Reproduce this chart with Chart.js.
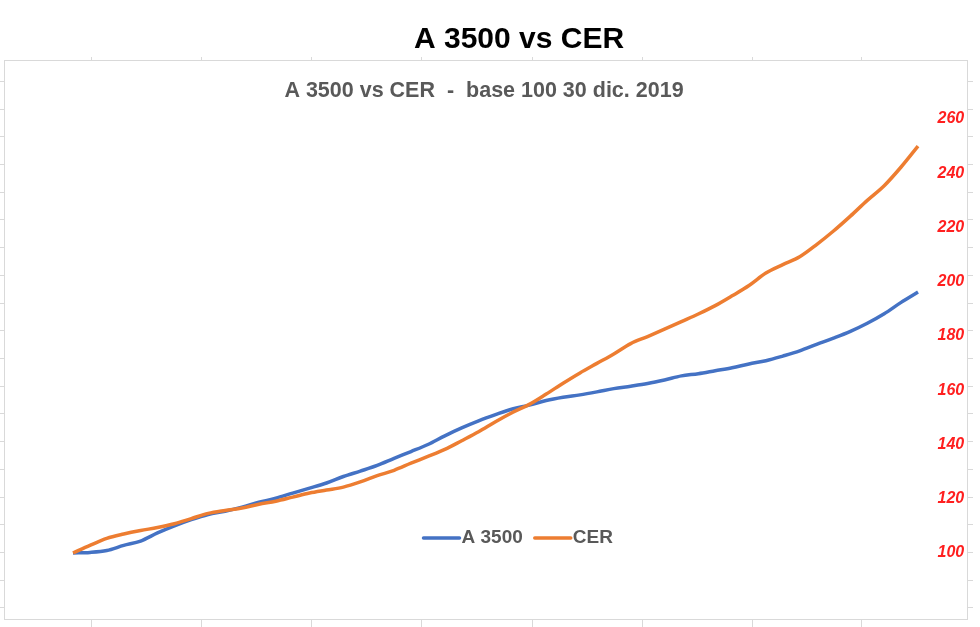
<!DOCTYPE html>
<html>
<head>
<meta charset="utf-8">
<title>A 3500 vs CER</title>
<script src="https://cdn.jsdelivr.net/npm/chart.js@4.4.1/dist/chart.umd.min.js"></script>
<style>
  html, body { margin: 0; padding: 0; background: #fff; }
  #chart { display: block; }
</style>
</head>
<body>
<canvas id="chart" width="980" height="627"></canvas>
<script>
// base 100 = 30 dic. 2019
const SERIES_NAMES = ['A 3500', 'CER'];
const A3500 = [100.0, 100.2, 100.9, 102.8, 104.4, 107.4, 110.0, 112.3, 114.2, 115.4,
  116.9, 118.7, 120.2, 122.1, 123.9, 125.8, 128.2, 130.2, 132.3, 134.9,
  137.4, 140.0, 143.2, 146.1, 148.7, 151.0, 153.1, 154.5, 156.2, 157.4,
  158.3, 159.4, 160.6, 161.5, 162.5, 163.8, 165.3, 166.1, 167.2, 168.3,
  169.7, 170.9, 172.6, 174.5, 176.9, 179.2, 181.7, 184.7, 188.2, 192.4, 196.2];
const CER = [100.0, 102.8, 105.4, 107.0, 108.3, 109.4, 110.8, 112.7, 114.6, 115.7,
  116.6, 118.0, 119.1, 120.6, 122.1, 123.2, 124.3, 126.2, 128.5, 130.5,
  133.1, 135.6, 138.2, 141.4, 144.7, 148.4, 151.8, 154.8, 158.6, 162.6,
  166.4, 169.9, 173.4, 177.2, 179.8, 182.5, 185.3, 188.1, 191.2, 194.8,
  198.6, 203.2, 206.3, 209.2, 213.7, 218.7, 224.2, 230.0, 235.4, 242.3, 250.0];
const Y_LABELS = [100, 120, 140, 160, 180, 200, 220, 240, 260];
const X_TICKS = [1.12, 7.63, 14.14, 20.65, 27.16, 33.67, 40.18, 46.68];
const GUIDE_TICKS = [0, 1, 2, 3, 4, 5, 6, 7, 8, 9, 10, 11, 12, 13, 14, 15, 16, 17, 18, 19];

const GRID = '#d9d9d9';
const FONT = '"Liberation Sans", Arial, sans-serif';
const toPoints = arr => arr.map((v, i) => ({ x: i, y: v }));
const setTicks = list => s => { s.ticks = list.map(v => ({ value: v })); };
const noPad = s => { s.paddingTop = 0; s.paddingBottom = 0; s.paddingLeft = 0; s.paddingRight = 0; };

// plot frame (runs past the label axis), title, subtitle and in-plot legend
const excelText = {
  id: 'excelText',
  beforeDatasetsDraw(chart) {
    const { ctx, chartArea: a, scales } = chart;
    ctx.save();
    ctx.strokeStyle = GRID; ctx.lineWidth = 1;
    ctx.strokeRect(scales.yt.right + 0.5, a.top + 0.5, scales.yt2.left - scales.yt.right, a.bottom - a.top);
    ctx.restore();
  },
  afterDraw(chart, args, o) {
    const ctx = chart.ctx;
    ctx.save();
    ctx.textBaseline = 'middle';
    ctx.textAlign = 'center';
    for (const t of [o.title, o.subtitle]) {
      ctx.font = t.font; ctx.fillStyle = t.color;
      ctx.fillText(t.text, t.x, t.y);
    }
    const lg = o.legend;
    let x = lg.x;
    ctx.font = lg.font; ctx.textAlign = 'left';
    for (const ds of chart.data.datasets) {
      ctx.strokeStyle = ds.borderColor; ctx.lineWidth = ds.borderWidth; ctx.lineCap = 'round';
      ctx.beginPath(); ctx.moveTo(x, lg.y); ctx.lineTo(x + lg.lineLen, lg.y); ctx.stroke();
      x += lg.lineLen + lg.gap;
      ctx.fillStyle = lg.color;
      ctx.fillText(ds.label, x, lg.y);
      x += ctx.measureText(ds.label).width + lg.itemGap;
    }
    ctx.restore();
  }
};

const tickAxis = (position, len) => ({
  position, min: -0.397, max: 19.77,
  afterBuildTicks: setTicks(GUIDE_TICKS), afterFit: noPad,
  ticks: { display: false },
  grid: { drawOnChartArea: false, drawTicks: true, tickLength: len, color: GRID },
  border: { display: false }
});
const xAxis = (position, len) => ({
  type: 'linear', position, min: -4.083, max: 51.065,
  afterBuildTicks: setTicks(X_TICKS), afterFit: noPad,
  ticks: { display: false },
  grid: { drawOnChartArea: false, drawTicks: true, tickLength: len, color: GRID },
  border: { display: false }
});

new Chart(document.getElementById('chart'), {
  type: 'line',
  data: {
    datasets: [
      { label: SERIES_NAMES[0], data: toPoints(A3500), borderColor: '#4472c4', borderWidth: 3.5,
        pointRadius: 0, cubicInterpolationMode: 'monotone', order: 1, xAxisID: 'x', yAxisID: 'y' },
      { label: SERIES_NAMES[1], data: toPoints(CER), borderColor: '#ed7d31', borderWidth: 3.5,
        pointRadius: 0, cubicInterpolationMode: 'monotone', order: 0, xAxisID: 'x', yAxisID: 'y' }
    ]
  },
  options: {
    responsive: false,
    devicePixelRatio: 1,
    animation: false,
    layout: { padding: { top: 57, left: 0, right: 7, bottom: 0 } },
    scales: {
      x: xAxis('bottom', 8),
      x2: xAxis('top', 3),
      yt: tickAxis('left', 4),
      y: {
        position: 'right', weight: 0, min: 75.67, max: 281.75,
        afterBuildTicks: setTicks(Y_LABELS),
        afterFit: s => { noPad(s); s.width = 31; },
        grid: { display: false, drawTicks: false },
        border: { display: false },
        ticks: {
          padding: 1.5, color: '#ff1f1f',
          font: { family: FONT, size: 16, weight: 'bold', style: 'italic' },
          callback: v => v
        }
      },
      yt2: Object.assign(tickAxis('right', 6), { weight: 1 })
    },
    plugins: {
      legend: { display: false },
      tooltip: { enabled: false },
      excelText: {
        title: { text: 'A 3500 vs CER', x: 519, y: 40, color: '#000000', font: 'bold 30px ' + FONT },
        subtitle: { text: 'A 3500 vs CER  -  base 100 30 dic. 2019', x: 484, y: 91, color: '#595959', font: 'bold 21.5px ' + FONT },
        legend: { x: 423.5, y: 538, lineLen: 36, gap: 2, itemGap: 12, color: '#595959', font: 'bold 19px ' + FONT }
      }
    }
  },
  plugins: [excelText]
});
</script>
</body>
</html>
